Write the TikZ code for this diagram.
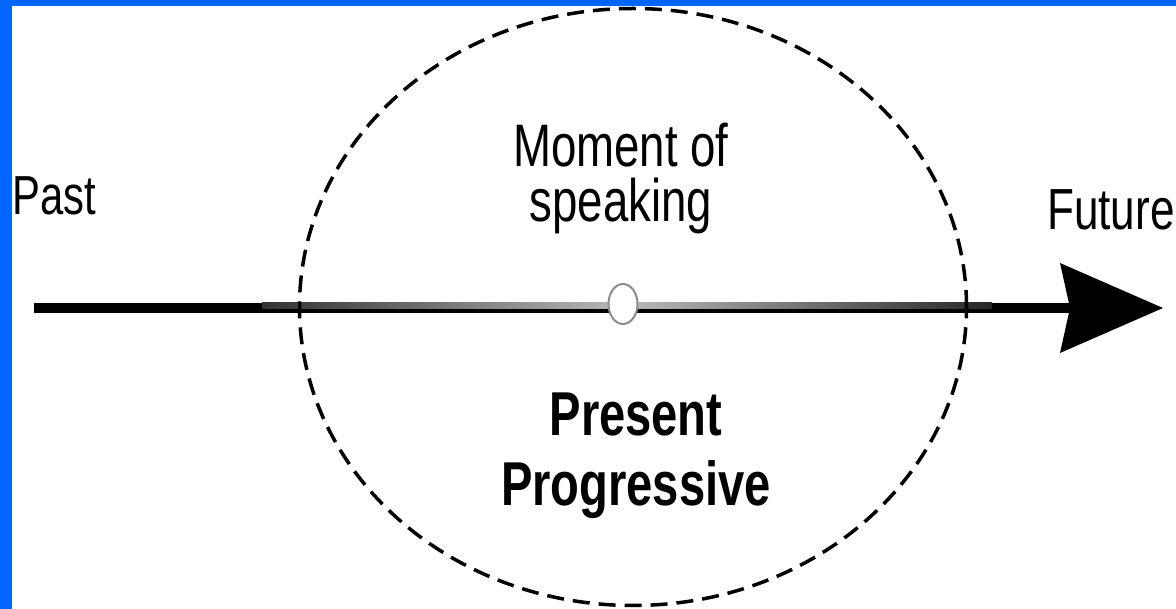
\documentclass[tikz,border=0pt]{standalone}
\usepackage{fontspec}
\setmainfont{Liberation Sans}[FakeStretch=0.76]
\usetikzlibrary{positioning,shapes.geometric,arrows.meta}
\definecolor{slideblue}{RGB}{0,102,255}
\definecolor{dotline}{RGB}{140,140,140}

\begin{document}
\begin{tikzpicture}[
  x=1pt, y=-1pt,
  lab/.style={inner sep=0pt, font=\fontsize{60}{55}\selectfont},
  big/.style={inner sep=0pt, align=center, font=\fontsize{62}{70}\selectfont\bfseries},
  span/.style={draw, ellipse, line width=3.5pt, dash pattern=on 17pt off 9pt, minimum width=667pt, minimum height=597pt, inner sep=0pt},
  now/.style={draw=dotline, ellipse, fill=white, line width=2pt, minimum width=29pt, minimum height=40pt, inner sep=0pt},
  timeline/.style={line width=10pt, -{Stealth[length=103pt, width=90pt, inset=10pt, line width=0pt]}}]

\useasboundingbox (0,0) rectangle (1176,609);
\fill[white] (0,0) rectangle (1176,609);

% time axis with its shaded middle part
\coordinate (start) at (34,308);
\coordinate (end) at (1163,308);
\draw[timeline] (start) -- (end);
\shade[left color=black!80, right color=black!85, middle color=black!27] (262,303) rectangle (992,309);

\node[span] (present) at (633,307) {};
\node[now] (moment) at (623,304) {};

\node[lab, anchor=base west, font=\fontsize{55}{55}\selectfont] (past) at (12,215) {Past};
\node[lab, anchor=base west, font=\fontsize{58}{58}\selectfont] (future) at (1047,230) {Future};
\node[lab, align=center, anchor=base] (speak) at (621,222) {Moment of\\speaking};
\node[big, anchor=base] (prog) at (636,505) {Present\\Progressive};

% slide frame
\fill[slideblue] (0,0) rectangle (12,609);
\fill[slideblue] (0,0) rectangle (1176,6);
\end{tikzpicture}
\end{document}
